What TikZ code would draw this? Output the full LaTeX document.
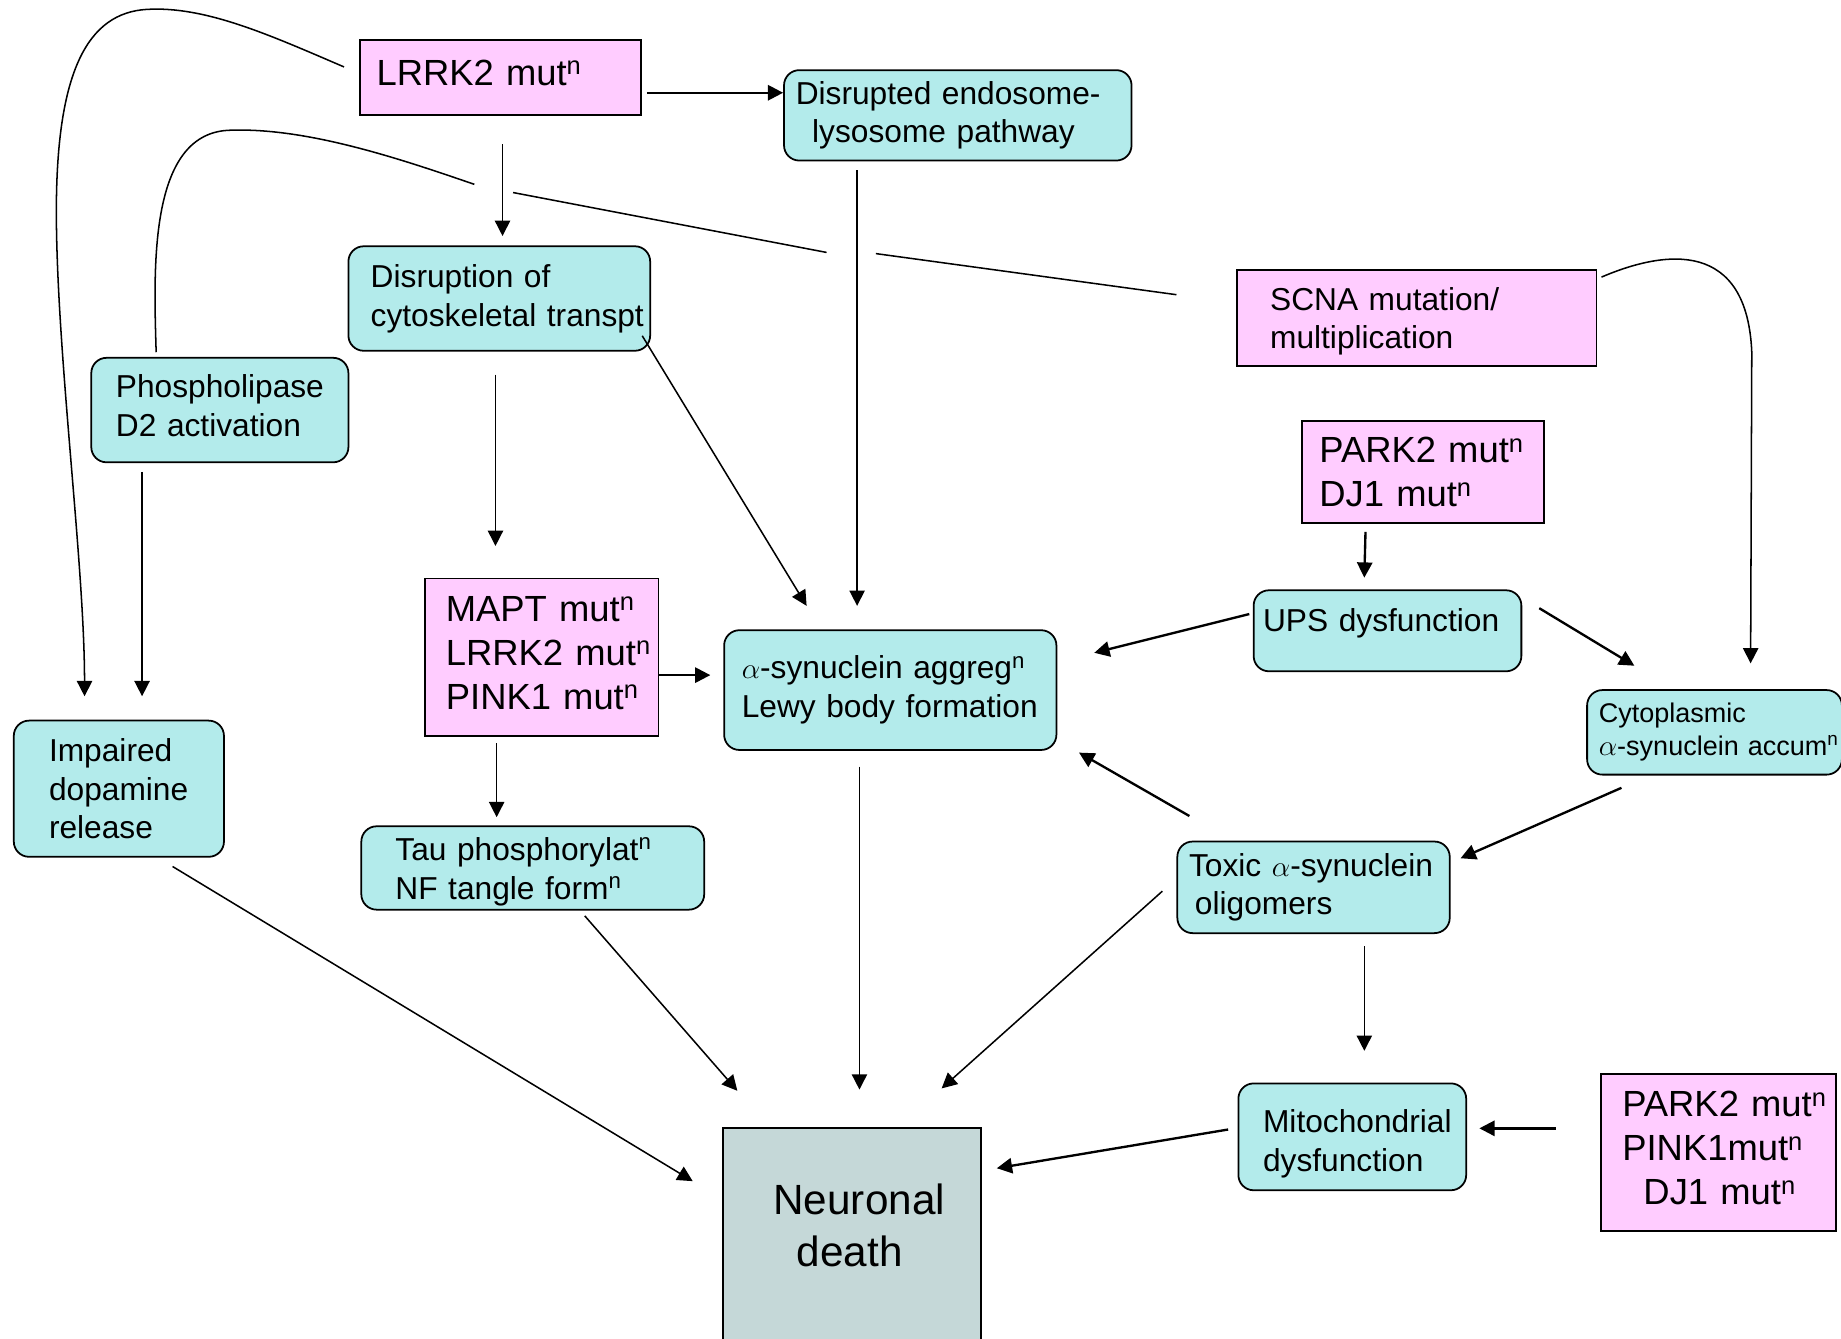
\documentclass[tikz,border=0pt]{standalone}
\usepackage{fontspec}
\setmainfont{Liberation Sans}
\usetikzlibrary{arrows.meta,calc}
\definecolor{pinkf}{RGB}{255,204,255}
\definecolor{cyanf}{RGB}{179,235,235}
\definecolor{grayf}{RGB}{197,216,216}
\newcommand\fntA{\fontsize{31}{37.5}\selectfont}
\newcommand\fntB{\fontsize{27}{33}\selectfont}
\newcommand\fntC{\fontsize{23}{28}\selectfont}
\newcommand\fntD{\fontsize{36}{43.5}\selectfont}
\newcommand\sn{\textsuperscript{n}}
\tikzset{
  box/.style={draw, line width=1.5pt, inner xsep=0pt, inner ysep=0pt, anchor=north west, align=left, font=\fntB},
  cbox/.style={box, fill=cyanf, rounded corners=13pt},
  pbox/.style={box, fill=pinkf},
  arr/.style={line width=1.3pt, -{Triangle[length=13pt,width=13pt]}},
  thk/.style={line width=2pt},
  plain/.style={line width=1.3pt}
}
\begin{document}
\begin{tikzpicture}[x=1pt,y=-1pt]
\useasboundingbox (0,0) rectangle (1568,1140);
\clip (0,0) rectangle (1568,1140);

% nodes
\node[pbox, text width=239pt, minimum height=64pt, text depth=8pt, font=\fntA] (lrrk2) at (306,33) {\hspace*{14pt}LRRK2 mut\sn};
\node[cbox, text width=296pt, minimum height=77pt] (endo) at (667,59) {\hspace*{10pt}Disrupted endosome-\\\hspace*{24pt}lysosome pathway};
\node[cbox, text width=257pt, minimum height=89pt] (cyto) at (296,209) {\hspace*{19pt}Disruption of\\\hspace*{19pt}cytoskeletal transpt};
\node[cbox, text width=219pt, minimum height=89pt, text depth=41pt] (phos) at (77,304) {\hspace*{21pt}Phospholipase\\\hspace*{21pt}D2 activation};
\node[pbox, text width=306pt, minimum height=82pt, text depth=32.7pt] (scna) at (1053,229) {\hspace*{28pt}SCNA mutation/\\\hspace*{28pt}multiplication};
\node[pbox, text width=206pt, minimum height=87pt, font=\fntA] (pdj) at (1108,358) {\hspace*{15pt}PARK2 mut\sn\\\hspace*{15pt}DJ1 mut\sn};
\node[cbox, text width=228pt, minimum height=69pt, text depth=18pt] (ups) at (1067,502) {\hspace*{8pt}UPS dysfunction};
\node[pbox, text width=199pt, minimum height=134pt, text depth=83pt, font=\fntA] (mapt) at (361,492) {\hspace*{18pt}MAPT mut\sn\\\hspace*{18pt}LRRK2 mut\sn\\\hspace*{18pt}PINK1 mut\sn};
\node[cbox, text width=283pt, minimum height=102pt] (asyn) at (616,536) {\hspace*{15pt}$\alpha$-synuclein aggreg\sn\\\hspace*{15pt}Lewy body formation};
\node[cbox, text width=217pt, minimum height=72pt, font=\fntC] (cytop) at (1351,587) {\hspace*{10pt}Cytoplasmic\\\hspace*{10pt}$\alpha$-synuclein accum\sn};
\node[cbox, text width=179pt, minimum height=116pt] (imp) at (11,613) {\hspace*{30pt}Impaired\\\hspace*{30pt}dopamine\\\hspace*{30pt}release};
\node[cbox, text width=292pt, minimum height=71pt, text depth=32.7pt] (tau) at (307,703) {\hspace*{29pt}Tau phosphorylat\sn\\\hspace*{29pt}NF tangle form\sn};
\node[cbox, text width=232pt, minimum height=78pt] (toxic) at (1002,716) {\hspace*{10pt}Toxic $\alpha$-synuclein\\\hspace*{15pt}oligomers};
\node[cbox, text width=194pt, minimum height=91pt, text depth=26.7pt] (mito) at (1054,922) {\hspace*{21pt}Mitochondrial\\\hspace*{21pt}dysfunction};
\node[pbox, text width=200pt, minimum height=134pt, text depth=83pt, font=\fntA] (ppd) at (1363,914) {\hspace*{18pt}PARK2 mut\sn\\\hspace*{18pt}PINK1mut\sn\\\hspace*{36pt}DJ1 mut\sn};
\node[box, fill=grayf, text width=220pt, minimum height=200pt, text depth=78pt, font=\fntD] (death) at (615,960) {\hspace*{43pt}Neuronal\\\hspace*{63pt}death};

% hop coordinates of the SCNA--phospholipase line
\coordinate (hopA) at (404,157);
\coordinate (hopB) at (437,164);
\coordinate (hopC) at (704,215);
\coordinate (hopD) at (746,216);

% connectors
\draw[arr,thk] ($(lrrk2.north west)+(245,46)$) -- ($(endo.north west)+(0,20)$);
\draw[arr] ($(lrrk2.north west)+(122,90)$) -- ($(cyto.north west)+(132,-8)$);
\draw[arr] ($(lrrk2.north west)+(-13,24)$) .. controls (230,30) and (175,5) .. (125,8)
  .. controls (75,11) and (48,60) .. (48,180)
  .. controls (48,300) and (72,480) .. ($(imp.north west)+(61,-20)$);
\draw[plain] ($(phos.north west)+(56,-4)$) .. controls (131,230) and (126,115) .. (194,111)
  .. controls (260,108) and (340,135) .. (hopA);
\draw[plain] (hopB) -- (hopC);
\draw[plain] (hopD) -- ($(scna.north west)+(-51,22)$);
\draw[arr] ($(phos.north west)+(44,98)$) -- ($(imp.north west)+(110,-20)$);
\draw[arr] ($(cyto.north west)+(126,110)$) -- ($(mapt.north west)+(61,-27)$);
\draw[arr] ($(cyto.north west)+(251,77)$) -- ($(asyn.north west)+(71,-20)$);
\draw[arr] ($(endo.north west)+(63,86)$) -- ($(asyn.north west)+(114,-20)$);
\draw[arr] ($(scna.north west)+(311,7)$) .. controls (1420,212) and (1488,205) .. (1492,300)
  -- ($(cytop.north west)+(140,-22)$);
\draw[arr,thk] ($(pdj.north west)+(55,95)$) -- ($(ups.north west)+(95,-10)$);
\draw[arr,thk] ($(ups.north west)+(-3,21)$) -- ($(asyn.north west)+(316,20)$);
\draw[arr,thk] ($(ups.north west)+(244,16)$) -- ($(cytop.north west)+(41,-20)$);
\draw[arr,thk] ($(mapt.north west)+(200,83)$) -- ($(asyn.north west)+(-11,39)$);
\draw[arr] ($(mapt.north west)+(62,141)$) -- ($(tau.north west)+(116,-7)$);
\draw[arr,thk] ($(cytop.north west)+(30,84)$) -- ($(toxic.north west)+(242,15)$);
\draw[arr,thk] ($(toxic.north west)+(11,-21)$) -- ($(asyn.north west)+(303,105)$);
\draw[arr] ($(toxic.north west)+(-12,43)$) -- ($(death.north west)+(187,-33)$);
\draw[arr] ($(toxic.north west)+(160,90)$) -- ($(mito.north west)+(108,-27)$);
\draw[arr,thk] ($(ppd.north west)+(-38,47)$) -- ($(mito.north west)+(206,39)$);
\draw[arr,thk] ($(mito.north west)+(-8,40)$) -- ($(death.north west)+(234,35)$);
\draw[arr] ($(asyn.north west)+(116,117)$) -- ($(death.north west)+(117,-32)$);
\draw[arr] ($(tau.north west)+(191,77)$) -- ($(death.north west)+(13,-31)$);
\draw[arr] ($(imp.north west)+(136,125)$) -- ($(death.north west)+(-25,46)$);
\end{tikzpicture}
\end{document}
